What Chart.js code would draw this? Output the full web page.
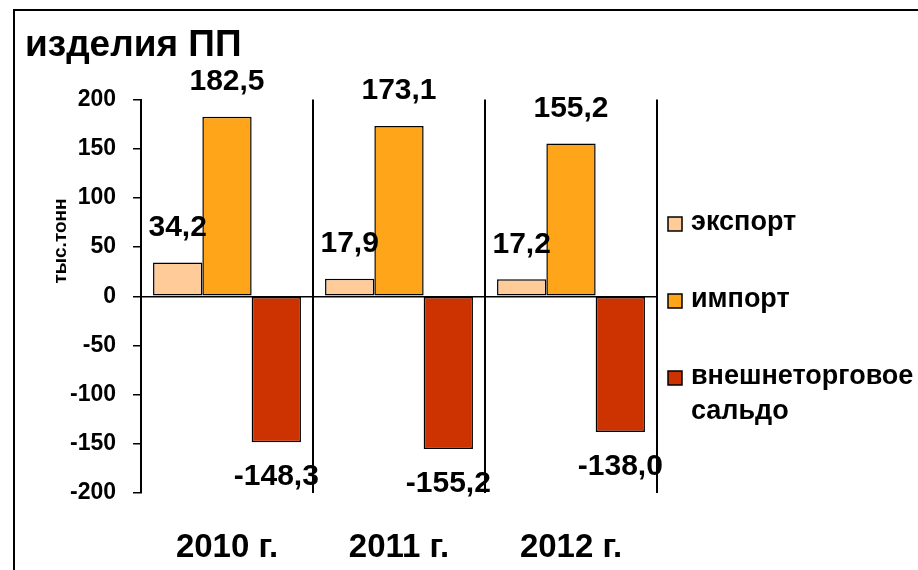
<!DOCTYPE html>
<html>
<head>
<meta charset="utf-8">
<script src="https://cdn.jsdelivr.net/npm/chart.js@4"></script>
<style>
  html, body { margin: 0; padding: 0; background: #fff; }
  #wrap { width: 918px; height: 570px; position: relative; }
</style>
</head>
<body>
<div id="wrap"><canvas id="chart"></canvas></div>
<script>
// данные
const years = ['2010 г.', '2011 г.', '2012 г.'];
const exportVals = [34.2, 17.9, 17.2];
const importVals = [182.5, 173.1, 155.2];
const saldoVals = [-148.3, -155.2, -138.0];
const seriesNames = ['экспорт', 'импорт', ['внешнеторговое', 'сальдо']];
const yTicks = [200, 150, 100, 50, 0, -50, -100, -150, -200];

const FONT = 'Arial, "Liberation Sans", sans-serif';
const colors = ['#FFCC99', '#FFA51A', '#CC3300'];

// подписи значений над/под столбцами
const valueLabels = {
  id: 'valueLabels',
  afterDatasetsDraw(chart){
    const ctx = chart.ctx;
    ctx.save();
    ctx.font = 'bold 30px ' + FONT;
    ctx.fillStyle = '#000';
    ctx.textAlign = 'center';
    ctx.textBaseline = 'middle';
    chart.data.datasets.forEach((ds, i) => {
      chart.getDatasetMeta(i).data.forEach((bar, j) => {
        const v = ds.data[j];
        const y = v >= 0 ? bar.y - 35 : bar.y + 35;
        ctx.fillText(v.toFixed(1).replace('.', ','), bar.x, y);
      });
    });
    ctx.restore();
  }
};

// рамка, подпись оси Y и легенда
const extras = {
  id: 'extras',
  beforeDraw(chart){
    const ctx = chart.ctx;
    ctx.save();
    ctx.fillStyle = '#fff';
    ctx.fillRect(0, 0, chart.width, chart.height);
    ctx.strokeStyle = '#000';
    ctx.lineWidth = 2;
    ctx.beginPath();
    ctx.moveTo(918, 10);
    ctx.lineTo(14, 10);
    ctx.lineTo(14, 570);
    ctx.stroke();
    ctx.restore();
  },
  afterDraw(chart){
    const ctx = chart.ctx;
    ctx.save();
    // подпись оси
    ctx.font = 'bold 19px ' + FONT;
    ctx.fillStyle = '#000';
    ctx.textAlign = 'center';
    ctx.textBaseline = 'middle';
    ctx.translate(61, 241);
    ctx.rotate(-Math.PI / 2);
    ctx.fillText('тыс.тонн', 0, 0);
    ctx.restore();

    // легенда
    ctx.save();
    ctx.font = 'bold 27px ' + FONT;
    ctx.textAlign = 'left';
    ctx.textBaseline = 'middle';
    const rowY = [223, 300, 377];
    chart.data.datasets.forEach((ds, i) => {
      const y = rowY[i];
      ctx.fillStyle = ds.backgroundColor;
      ctx.fillRect(668, y - 6, 14, 14);
      ctx.strokeStyle = '#000';
      ctx.lineWidth = 1.5;
      ctx.strokeRect(668, y - 6, 14, 14);
      ctx.fillStyle = '#000';
      const lines = Array.isArray(ds.label) ? ds.label : [ds.label];
      lines.forEach((t, k) => ctx.fillText(t, 691, y + k * 35));
    });
    ctx.restore();
  }
};

new Chart(document.getElementById('chart'), {
  type: 'bar',
  data: {
    labels: years,
    datasets: [
      { label: seriesNames[0], data: exportVals, backgroundColor: colors[0] },
      { label: seriesNames[1], data: importVals, backgroundColor: colors[1] },
      { label: seriesNames[2], data: saldoVals, backgroundColor: colors[2] }
    ].map(d => Object.assign(d, { borderColor: '#000', borderWidth: 1.5, borderSkipped: false }))
  },
  options: {
    responsive: true,
    maintainAspectRatio: false,
    animation: false,
    datasets: { bar: { barPercentage: 1, categoryPercentage: 0.86 } },
    layout: { padding: { left: 25, right: 261, top: 0, bottom: 0 } },
    plugins: {
      legend: { display: false },
      tooltip: { enabled: false },
      title: {
        display: true,
        text: 'изделия ПП',
        align: 'start',
        color: '#000',
        font: { family: FONT, size: 37, weight: 'bold', lineHeight: 1.2 },
        padding: { top: 24, bottom: 31.1 }
      }
    },
    scales: {
      x: {
        afterFit(scale){ scale.height = 77; },
        grid: { display: true, offset: true, color: '#000', lineWidth: 2, drawTicks: false },
        border: { display: false },
        ticks: { color: '#000', padding: 35, font: { family: FONT, size: 33, weight: 'bold', lineHeight: 1.2 } }
      },
      y: {
        min: -200,
        max: 200,
        afterFit(scale){ scale.width = 116; },
        afterBuildTicks(scale){ scale.ticks = yTicks.map(v => ({ value: v })); },
        grid: {
          color: c => (c.tick && c.tick.value === 0) ? '#000' : 'rgba(0,0,0,0)',
          tickColor: '#000',
          lineWidth: 1.5,
          tickLength: 8
        },
        border: { display: true, color: '#000', width: 2 },
        ticks: { color: '#000', padding: 17, font: { family: FONT, size: 23, weight: 'bold' } }
      }
    }
  },
  plugins: [valueLabels, extras]
});
</script>
</body>
</html>
